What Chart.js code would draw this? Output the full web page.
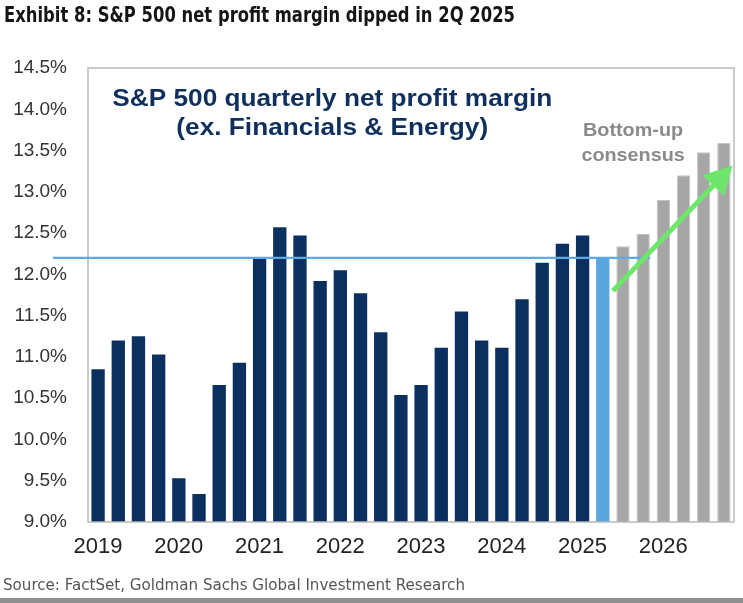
<!DOCTYPE html>
<html>
<head>
<meta charset="utf-8">
<script src="https://cdn.jsdelivr.net/npm/chart.js@4.4.1/dist/chart.umd.min.js"></script>
<style>
html,body{margin:0;padding:0;background:#fff;}
#wrap{position:relative;width:743px;height:603px;overflow:hidden;background:#fff;}
#chart{position:absolute;left:0;top:0;}
#title{position:absolute;left:4px;top:3px;font:bold 21px "DejaVu Sans Condensed","Liberation Sans Narrow",sans-serif;color:#151515;white-space:nowrap;transform-origin:0 0;}
#source{position:absolute;left:3px;top:575px;font:16px "DejaVu Sans Condensed","Liberation Sans Narrow",sans-serif;color:#555;white-space:nowrap;transform-origin:0 0;}
#bottombar{position:absolute;left:0;width:743px;top:598px;height:5px;background:#8f8f8f;}
</style>
</head>
<body>
<div id="wrap">
  <canvas id="chart" width="743" height="603"></canvas>
  <div id="title">Exhibit 8: S&amp;P 500 net profit margin dipped in 2Q 2025</div>
  <div id="source">Source: FactSet, Goldman Sachs Global Investment Research</div>
  <div id="bottombar"></div>
</div>
<script>
// ---- data ----
const years = ['2019','2020','2021','2022','2023','2024','2025','2026'];
const quarterNames = ['Q1','Q2','Q3','Q4'];
// reported margins, 1Q 2019 .. 1Q 2025 (%)
const actualMargins = [10.85, 11.20, 11.25, 11.03,
                       9.53, 9.34, 10.66, 10.93,
                       12.19, 12.57, 12.47, 11.92,
                       12.05, 11.77, 11.30, 10.54,
                       10.66, 11.11, 11.55, 11.20,
                       11.11, 11.70, 12.14, 12.37,
                       12.47];
// latest reported quarter, 2Q 2025 (%)
const latestMargin = [12.20];
// bottom-up consensus, 3Q 2025 .. 4Q 2026 (%)
const consensusMargins = [12.34, 12.49, 12.90, 13.20, 13.48, 13.59];
const yAxisMin = 9.0, yAxisMax = 14.5, yAxisStep = 0.5;
const referenceLevel = latestMargin[0];
const annotationTitle = ['S&P 500 quarterly net profit margin', '(ex. Financials & Energy)'];
const consensusLabel = ['Bottom-up', 'consensus'];
// arrow endpoints in data terms (category index, margin %)
const arrowFrom = {index: 25.5, value: 11.80};
const arrowTo   = {index: 31.43, value: 13.32};

// ---- fit the condensed header/footer text widths ----
function fitWidth(id, target) {
  const el = document.getElementById(id);
  const w = el.getBoundingClientRect().width;
  if (w > 0) el.style.transform = 'scaleX(' + (target / w) + ')';
}
fitWidth('title', 511);
fitWidth('source', 462);

// ---- build what the library needs ----
const categories = years.flatMap(y => quarterNames.map(q => y + ' ' + q));
const nActual = actualMargins.length;
const pad = (arr, before) => {
  const out = new Array(categories.length).fill(null);
  arr.forEach((v, i) => { out[before + i] = v; });
  return out;
};

const NAVY = '#0b3060', LIGHTBLUE = '#5aa6de', GRAY = '#a6a6a6';

function stretchedText(ctx, text, cx, cy, sx) {
  ctx.save();
  ctx.translate(cx, cy);
  ctx.scale(sx, 1);
  ctx.fillText(text, 0, 0);
  ctx.restore();
}

const decor = {
  id: 'decor',
  beforeDraw(chart) {
    const ctx = chart.ctx;
    ctx.save();
    ctx.fillStyle = '#fff';
    ctx.fillRect(0, 0, chart.width, chart.height);
    ctx.restore();
  },
  afterDatasetsDraw(chart) {
    const {ctx, chartArea: a, scales: {x, y}} = chart;
    ctx.save();
    // frame
    ctx.strokeStyle = '#b9b9b9';
    ctx.lineWidth = 1.5;
    ctx.strokeRect(a.left, a.top, a.right - a.left, a.bottom - a.top);

    // reference line at latest level
    const step = x.getPixelForValue(1) - x.getPixelForValue(0);
    const ly = y.getPixelForValue(referenceLevel);
    ctx.strokeStyle = '#5ea8e4';
    ctx.lineWidth = 2.2;
    ctx.beginPath();
    ctx.moveTo(a.left - 35, ly);
    ctx.lineTo(x.getPixelForValue(27) + 0.35 * step, ly);
    ctx.stroke();

    // green arrow
    const x0 = x.getPixelForValue(arrowFrom.index), y0 = y.getPixelForValue(arrowFrom.value);
    const x1 = x.getPixelForValue(arrowTo.index), y1 = y.getPixelForValue(arrowTo.value);
    const ang = Math.atan2(y1 - y0, x1 - x0);
    const headLen = 28, headHalf = 15;
    const bx = x1 - headLen * Math.cos(ang), by = y1 - headLen * Math.sin(ang);
    ctx.strokeStyle = '#6fe66b';
    ctx.fillStyle = '#6fe66b';
    ctx.lineWidth = 5;
    ctx.lineCap = 'butt';
    ctx.beginPath();
    ctx.moveTo(x0, y0);
    ctx.lineTo(bx + 2 * Math.cos(ang), by + 2 * Math.sin(ang));
    ctx.stroke();
    ctx.beginPath();
    ctx.moveTo(x1, y1);
    ctx.lineTo(bx + headHalf * Math.sin(ang), by - headHalf * Math.cos(ang));
    ctx.lineTo(bx - headHalf * Math.sin(ang), by + headHalf * Math.cos(ang));
    ctx.closePath();
    ctx.fill();

    // annotation texts
    ctx.textAlign = 'center';
    ctx.textBaseline = 'middle';
    ctx.fillStyle = '#0f2f5c';
    ctx.font = 'bold 23px "Liberation Sans", Arial, sans-serif';
    const sx = 440 / ctx.measureText(annotationTitle[0]).width;
    const cx = x.getPixelForValue(11.6);
    stretchedText(ctx, annotationTitle[0], cx, a.top + 32, sx);
    stretchedText(ctx, annotationTitle[1], cx, a.top + 61, sx);

    ctx.fillStyle = '#8a8a8a';
    ctx.font = 'bold 18px "Liberation Sans", Arial, sans-serif';
    const gsx = 100 / ctx.measureText(consensusLabel[0]).width;
    const gx = x.getPixelForValue(26.5);
    stretchedText(ctx, consensusLabel[0], gx, a.top + 63, gsx);
    stretchedText(ctx, consensusLabel[1], gx, a.top + 88, gsx);
    ctx.restore();
  }
};

new Chart(document.getElementById('chart'), {
  type: 'bar',
  data: {
    labels: categories,
    datasets: [
      {label: 'Reported', data: pad(actualMargins, 0), backgroundColor: NAVY},
      {label: '2Q 2025', data: pad(latestMargin, nActual), backgroundColor: LIGHTBLUE},
      {label: 'Bottom-up consensus', data: pad(consensusMargins, nActual + latestMargin.length), backgroundColor: GRAY,
       borderColor: '#c4c4c4', borderWidth: {left: 1, right: 1, top: 1, bottom: 0}}
    ]
  },
  options: {
    responsive: false,
    animation: false,
    devicePixelRatio: 1,
    layout: {padding: {top: 68, right: 9, left: 0, bottom: 0}},
    datasets: {bar: {grouped: false, barPercentage: 0.66, categoryPercentage: 1.0}},
    plugins: {legend: {display: false}, tooltip: {enabled: false}, title: {display: false}},
    scales: {
      x: {
        type: 'category',
        grid: {display: false, drawTicks: false},
        border: {display: false},
        ticks: {
          autoSkip: false, maxRotation: 0, minRotation: 0, padding: 12,
          color: '#222',
          font: {family: '"Liberation Sans", Arial, sans-serif', size: 22},
          callback: (v, i) => categories[i].endsWith('Q1') ? categories[i].slice(0, 4) : ''
        },
        afterFit: s => { s.height = 81; }
      },
      y: {
        min: yAxisMin, max: yAxisMax,
        grid: {display: false, drawTicks: false},
        border: {display: false},
        ticks: {
          stepSize: yAxisStep, padding: 21, color: '#333',
          font: {family: '"Liberation Sans", Arial, sans-serif', size: 19},
          callback: v => Number(v).toFixed(1) + '%'
        },
        afterFit: s => { s.width = 88; }
      }
    }
  },
  plugins: [decor]
});
</script>
</body>
</html>
